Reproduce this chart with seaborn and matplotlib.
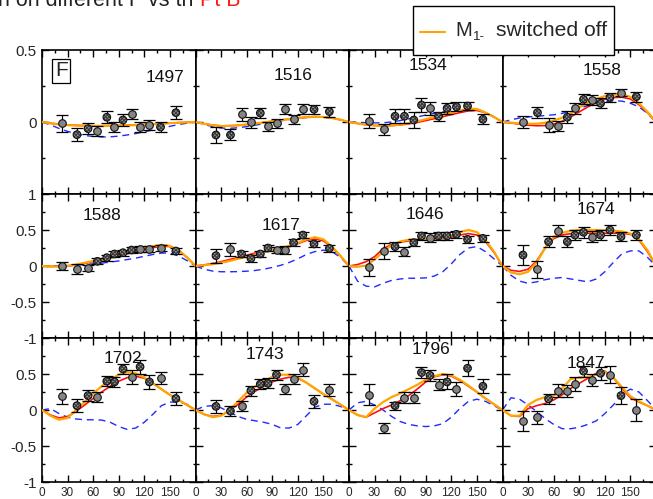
import matplotlib
matplotlib.use("Agg")
import matplotlib.pyplot as plt
import pandas as pd
import seaborn as sns
from matplotlib.lines import Line2D
from matplotlib.patches import Rectangle
from matplotlib.ticker import MultipleLocator

sns.set_theme(style="ticks")
plt.rcParams["font.family"] = ["Liberation Sans", "DejaVu Sans"]
plt.rcParams["hatch.linewidth"] = 0.8

# ---------------------------------------------------------------- data
ENERGIES = [1497, 1516, 1534, 1558, 1588, 1617, 1646, 1674, 1702, 1743, 1796, 1847]

THETA_DATA = [24, 41, 54, 65, 76, 85, 95, 105, 115, 126, 139, 157]
THETA_CURVE = [0, 10, 20, 30, 40, 50, 60, 70, 80, 90, 100, 110, 120, 130, 140, 150, 160, 170, 180]

F_MEAS = {
    1497: [-0.01, -0.088, -0.046, -0.063, 0.033, -0.037, 0.014, 0.056, -0.032, -0.023, -0.035, 0.065],
    1516: [-0.09, -0.09, 0.053, -0.002, 0.062, -0.03, -0.01, 0.09, 0.019, 0.09, 0.088, 0.072],
    1534: [0.007, -0.051, 0.04, 0.04, 0.014, 0.118, 0.095, 0.04, 0.095, 0.106, 0.111, 0.019],
    1558: [0.0, 0.065, -0.021, -0.028, 0.033, 0.095, 0.157, 0.153, 0.13, 0.171, 0.204, 0.176],
    1588: [0.0, -0.042, -0.028, 0.065, 0.116, 0.167, 0.185, 0.222, 0.231, 0.231, 0.245, 0.208],
    1617: [0.144, 0.231, 0.167, 0.106, 0.167, 0.25, 0.222, 0.222, 0.324, 0.43, 0.306, 0.245],
    1646: [-0.019, 0.213, 0.269, 0.199, 0.324, 0.417, 0.394, 0.417, 0.417, 0.44, 0.37, 0.384],
    1674: [0.153, -0.046, 0.338, 0.49, 0.338, 0.43, 0.468, 0.407, 0.43, 0.5, 0.407, 0.43],
    1702: [0.19, 0.06, 0.2, 0.18, 0.4, 0.39, 0.57, 0.46, 0.6, 0.39, 0.45, 0.16],
    1743: [0.05, -0.015, 0.05, 0.27, 0.36, 0.37, 0.49, 0.29, 0.43, 0.56, 0.12, 0.28],
    1796: [0.215, -0.25, 0.06, 0.17, 0.17, 0.52, 0.48, 0.35, 0.39, 0.29, 0.58, 0.33],
    1847: [-0.155, -0.1, 0.155, 0.27, 0.26, 0.36, 0.54, 0.42, 0.51, 0.49, 0.2, 0.0],
}

F_ERR = {
    1497: [0.061, 0.046, 0.038, 0.035, 0.04, 0.035, 0.04, 0.035, 0.035, 0.035, 0.035, 0.045],
    1516: [0.053, 0.038, 0.044, 0.039, 0.037, 0.032, 0.034, 0.037, 0.031, 0.034, 0.031, 0.035],
    1534: [0.046, 0.038, 0.049, 0.049, 0.054, 0.046, 0.046, 0.032, 0.037, 0.03, 0.027, 0.035],
    1558: [0.043, 0.038, 0.05, 0.037, 0.04, 0.037, 0.035, 0.037, 0.035, 0.029, 0.025, 0.035],
    1588: [0.05, 0.065, 0.04, 0.04, 0.04, 0.04, 0.04, 0.04, 0.04, 0.04, 0.04, 0.04],
    1617: [0.097, 0.086, 0.044, 0.046, 0.046, 0.046, 0.046, 0.055, 0.046, 0.046, 0.04, 0.046],
    1646: [0.116, 0.111, 0.058, 0.065, 0.053, 0.05, 0.063, 0.05, 0.05, 0.05, 0.05, 0.053],
    1674: [0.134, 0.116, 0.076, 0.076, 0.081, 0.074, 0.074, 0.074, 0.065, 0.069, 0.06, 0.069],
    1702: [0.104, 0.093, 0.081, 0.069, 0.069, 0.069, 0.074, 0.093, 0.1, 0.093, 0.083, 0.095],
    1743: [0.093, 0.069, 0.069, 0.069, 0.069, 0.069, 0.069, 0.069, 0.074, 0.088, 0.086, 0.08],
    1796: [0.15, 0.076, 0.058, 0.074, 0.076, 0.074, 0.081, 0.074, 0.104, 0.1, 0.109, 0.097],
    1847: [0.14, 0.088, 0.074, 0.088, 0.086, 0.093, 0.076, 0.086, 0.088, 0.116, 0.12, 0.15],
}

# 1 = second data set (hatched symbol), 0 = first data set (plain grey symbol)
SECOND_SET = {
    1497: [0, 1, 1, 0, 1, 0, 1, 0, 0, 0, 1, 1],
    1516: [1, 1, 0, 0, 1, 0, 0, 0, 0, 0, 1, 1],
    1534: [0, 0, 1, 1, 1, 1, 0, 1, 1, 1, 1, 1],
    1558: [0, 1, 0, 0, 1, 0, 1, 0, 1, 1, 0, 1],
    1588: [0, 0, 0, 1, 1, 1, 1, 1, 0, 0, 0, 1],
    1617: [1, 0, 1, 1, 1, 1, 0, 0, 1, 1, 1, 1],
    1646: [0, 0, 1, 0, 1, 1, 0, 1, 1, 1, 1, 1],
    1674: [1, 0, 1, 0, 1, 1, 1, 0, 1, 1, 1, 1],
    1702: [0, 1, 1, 0, 1, 1, 1, 0, 1, 1, 0, 1],
    1743: [1, 1, 0, 1, 1, 1, 1, 0, 0, 0, 1, 0],
    1796: [0, 0, 1, 0, 0, 1, 1, 0, 1, 0, 1, 1],
    1847: [0, 0, 1, 0, 0, 0, 1, 0, 1, 0, 1, 0],
}

# full solution (red)
FIT_FULL = {
    1497: [0, -0.008, -0.015, -0.02, -0.023, -0.025, -0.026, -0.026, -0.025, -0.024, -0.022, -0.02, -0.017, -0.014, -0.011, -0.008, -0.005, -0.002, 0],
    1516: [0, -0.012, -0.022, -0.027, -0.026, -0.023, -0.017, -0.01, -0.003, 0.005, 0.013, 0.021, 0.028, 0.034, 0.037, 0.035, 0.028, 0.016, 0],
    1534: [0, -0.01, -0.019, -0.024, -0.026, -0.025, -0.021, -0.013, -0.003, 0.01, 0.023, 0.037, 0.051, 0.065, 0.077, 0.08, 0.065, 0.035, 0],
    1558: [0, -0.007, -0.015, -0.022, -0.026, -0.025, -0.015, 0.005, 0.035, 0.07, 0.105, 0.135, 0.158, 0.17, 0.172, 0.16, 0.12, 0.065, 0],
    1588: [0, -0.005, -0.005, 0.0, 0.015, 0.035, 0.06, 0.085, 0.11, 0.14, 0.17, 0.2, 0.23, 0.255, 0.275, 0.27, 0.22, 0.12, 0],
    1617: [0, 0.015, 0.035, 0.06, 0.09, 0.12, 0.15, 0.18, 0.2, 0.22, 0.245, 0.27, 0.31, 0.355, 0.375, 0.35, 0.26, 0.14, 0],
    1646: [0, 0.02, 0.06, 0.13, 0.24, 0.3, 0.33, 0.35, 0.36, 0.365, 0.37, 0.38, 0.4, 0.43, 0.45, 0.43, 0.34, 0.19, 0],
    1674: [0, -0.06, -0.075, -0.045, 0.07, 0.25, 0.38, 0.43, 0.45, 0.455, 0.455, 0.455, 0.455, 0.455, 0.455, 0.44, 0.36, 0.2, 0],
    1702: [0, -0.07, -0.11, -0.09, -0.02, 0.07, 0.16, 0.25, 0.33, 0.4, 0.45, 0.47, 0.44, 0.37, 0.29, 0.21, 0.14, 0.07, 0],
    1743: [0, -0.06, -0.09, -0.075, -0.01, 0.08, 0.18, 0.26, 0.33, 0.39, 0.43, 0.455, 0.44, 0.38, 0.3, 0.22, 0.15, 0.075, 0],
    1796: [0, -0.07, -0.1, -0.04, 0.02, 0.07, 0.13, 0.2, 0.29, 0.39, 0.46, 0.49, 0.47, 0.41, 0.33, 0.25, 0.16, 0.08, 0],
    1847: [0, -0.08, -0.09, 0.02, 0.06, 0.09, 0.14, 0.21, 0.3, 0.37, 0.44, 0.51, 0.54, 0.45, 0.3, 0.17, 0.11, 0.06, 0],
}

# solution with the M1- multipole switched off (orange)
FIT_M1M_OFF = {
    1497: [0, -0.01, -0.018, -0.022, -0.025, -0.027, -0.028, -0.028, -0.027, -0.026, -0.024, -0.022, -0.019, -0.016, -0.012, -0.008, -0.005, -0.002, 0],
    1516: [0, -0.012, -0.022, -0.028, -0.027, -0.024, -0.018, -0.01, -0.003, 0.004, 0.012, 0.02, 0.027, 0.033, 0.036, 0.035, 0.028, 0.016, 0],
    1534: [0, -0.01, -0.019, -0.024, -0.026, -0.024, -0.018, -0.008, 0.005, 0.02, 0.035, 0.05, 0.065, 0.08, 0.092, 0.09, 0.065, 0.035, 0],
    1558: [0, -0.005, -0.01, -0.012, -0.012, -0.005, 0.01, 0.03, 0.06, 0.1, 0.135, 0.16, 0.18, 0.19, 0.192, 0.175, 0.13, 0.07, 0],
    1588: [0, -0.008, -0.008, 0.0, 0.02, 0.045, 0.07, 0.1, 0.13, 0.16, 0.19, 0.22, 0.25, 0.275, 0.295, 0.28, 0.22, 0.12, 0],
    1617: [0, 0.01, 0.025, 0.045, 0.07, 0.1, 0.13, 0.16, 0.19, 0.22, 0.25, 0.28, 0.32, 0.37, 0.4, 0.37, 0.27, 0.14, 0],
    1646: [0, -0.01, 0.005, 0.09, 0.2, 0.29, 0.34, 0.365, 0.37, 0.37, 0.375, 0.39, 0.42, 0.47, 0.5, 0.47, 0.36, 0.2, 0],
    1674: [0, -0.09, -0.115, -0.08, 0.05, 0.25, 0.4, 0.46, 0.49, 0.5, 0.5, 0.5, 0.495, 0.49, 0.48, 0.45, 0.37, 0.22, 0],
    1702: [0, -0.08, -0.135, -0.11, 0.0, 0.11, 0.23, 0.33, 0.42, 0.49, 0.525, 0.51, 0.45, 0.37, 0.29, 0.21, 0.14, 0.07, 0],
    1743: [0, -0.06, -0.1, -0.08, 0.0, 0.12, 0.24, 0.33, 0.4, 0.46, 0.49, 0.49, 0.45, 0.38, 0.3, 0.22, 0.15, 0.075, 0],
    1796: [0, -0.07, -0.1, 0.02, 0.11, 0.18, 0.23, 0.29, 0.35, 0.42, 0.47, 0.5, 0.48, 0.42, 0.34, 0.25, 0.16, 0.08, 0],
    1847: [0, -0.08, -0.08, 0.07, 0.14, 0.18, 0.2, 0.3, 0.43, 0.45, 0.46, 0.49, 0.53, 0.45, 0.32, 0.19, 0.12, 0.06, 0],
}

# earlier solution (blue dashed)
FIT_PREV = {
    1497: [0, -0.02, -0.045, -0.065, -0.082, -0.094, -0.1, -0.104, -0.103, -0.098, -0.09, -0.08, -0.068, -0.055, -0.042, -0.03, -0.018, -0.008, 0],
    1516: [0, -0.016, -0.032, -0.042, -0.044, -0.04, -0.032, -0.022, -0.012, -0.002, 0.008, 0.017, 0.025, 0.031, 0.034, 0.033, 0.027, 0.015, 0],
    1534: [0, -0.002, -0.005, -0.006, -0.005, 0.0, 0.01, 0.022, 0.035, 0.048, 0.06, 0.07, 0.079, 0.087, 0.092, 0.09, 0.067, 0.036, 0],
    1558: [0, 0.015, 0.028, 0.035, 0.04, 0.045, 0.05, 0.06, 0.075, 0.095, 0.115, 0.13, 0.142, 0.147, 0.145, 0.13, 0.105, 0.06, 0],
    1588: [0, 0.0, 0.002, 0.006, 0.012, 0.02, 0.03, 0.04, 0.055, 0.07, 0.09, 0.11, 0.135, 0.16, 0.18, 0.18, 0.14, 0.075, 0],
    1617: [0, -0.045, -0.07, -0.08, -0.08, -0.078, -0.072, -0.062, -0.045, -0.02, 0.01, 0.05, 0.1, 0.16, 0.2, 0.22, 0.2, 0.12, 0],
    1646: [0, -0.21, -0.28, -0.29, -0.24, -0.2, -0.18, -0.17, -0.17, -0.165, -0.14, -0.08, 0.03, 0.16, 0.25, 0.27, 0.2, 0.1, 0],
    1674: [0, -0.13, -0.21, -0.24, -0.22, -0.19, -0.17, -0.16, -0.18, -0.2, -0.22, -0.18, -0.08, 0.05, 0.17, 0.21, 0.21, 0.12, 0],
    1702: [0, 0.02, -0.05, -0.1, -0.125, -0.135, -0.136, -0.14, -0.17, -0.23, -0.27, -0.25, -0.17, -0.06, 0.06, 0.11, 0.11, 0.08, 0],
    1743: [0, 0.05, 0.06, 0.03, -0.03, -0.09, -0.13, -0.15, -0.17, -0.2, -0.25, -0.25, -0.2, -0.08, 0.04, 0.08, 0.08, 0.05, 0],
    1796: [0, 0.1, 0.12, 0.07, 0.0, -0.09, -0.16, -0.2, -0.22, -0.23, -0.22, -0.19, -0.1, 0.02, 0.12, 0.15, 0.12, 0.06, 0],
    1847: [0, 0.17, 0.15, 0.07, -0.02, -0.12, -0.2, -0.26, -0.26, -0.24, -0.2, -0.15, -0.05, 0.07, 0.22, 0.29, 0.25, 0.13, 0],
}

ROW_YTICK_LABELS = [
    ["", "0", "0.5"],
    ["-1", "-0.5", "0", "0.5", "1"],
    ["-1", "-0.5", "0", "0.5", ""],
]
X_TICK_LABELS = ["0", "30", "60", "90", "120", "150", ""]

# ---------------------------------------------------------------- layout (pixels)
W, H = 653, 499
COL_LEFT = [42, 195.5, 349, 502.5]
COL_W = 153.5
ROW_TOP = [50, 194, 338]
ROW_H = 144

LABEL_POS = {
    1497: (0.80, 0.81), 1516: (0.637, 0.826), 1534: (0.517, 0.889), 1558: (0.65, 0.861),
    1588: (0.389, 0.854), 1617: (0.557, 0.778), 1646: (0.497, 0.861), 1674: (0.609, 0.894),
    1702: (0.53, 0.859), 1743: (0.45, 0.882), 1796: (0.531, 0.922), 1847: (0.544, 0.824),
}

fig = plt.figure(figsize=(W / 100, H / 100), dpi=100)
fig.patch.set_facecolor("white")

for i, energy in enumerate(ENERGIES):
    r, c = divmod(i, 4)
    ax = fig.add_axes([COL_LEFT[c] / W, 1 - (ROW_TOP[r] + ROW_H) / H, COL_W / W, ROW_H / H])
    ax.set_facecolor("white")

    curves = pd.DataFrame({
        "theta": THETA_CURVE,
        "prev": FIT_PREV[energy],
        "full": FIT_FULL[energy],
        "m1off": FIT_M1M_OFF[energy],
    })
    sns.lineplot(data=curves, x="theta", y="prev", ax=ax, color="#1f2bff",
                 linewidth=1.0, linestyle=(0, (5, 3.5)), zorder=2)
    sns.lineplot(data=curves, x="theta", y="full", ax=ax, color="#ff1010",
                 linewidth=1.2, zorder=3)
    sns.lineplot(data=curves, x="theta", y="m1off", ax=ax, color="#ffa500",
                 linewidth=1.6, zorder=4)

    pts = pd.DataFrame({
        "theta": THETA_DATA,
        "F": F_MEAS[energy],
        "err": F_ERR[energy],
        "second": SECOND_SET[energy],
    })
    ax.errorbar(pts["theta"], pts["F"], yerr=pts["err"], fmt="none", ecolor="black",
                elinewidth=0.9, capsize=4, capthick=0.9, zorder=5)
    first = pts[pts["second"] == 0]
    second = pts[pts["second"] == 1]
    sns.scatterplot(data=first, x="theta", y="F", ax=ax, s=30, color="#858585",
                    edgecolor="#111111", linewidth=0.8, zorder=6)
    # hatched fill (hatch lines take the edge colour), then a black ring on top
    sns.scatterplot(data=second, x="theta", y="F", ax=ax, s=30, facecolor="#9a9a9a",
                    edgecolor="#3a3a3a", linewidth=0.0, hatch="x" * 9, zorder=6)
    sns.scatterplot(data=second, x="theta", y="F", ax=ax, s=30, facecolor="none",
                    edgecolor="#111111", linewidth=0.8, zorder=7)

    ax.set_xlim(0, 180)
    if r == 0:
        ax.set_ylim(-0.5, 0.5)
        ax.set_yticks([-0.5, 0, 0.5])
    else:
        ax.set_ylim(-1, 1)
        ax.set_yticks([-1, -0.5, 0, 0.5, 1])
    ax.yaxis.set_minor_locator(MultipleLocator(0.25))
    ax.set_xticks([0, 30, 60, 90, 120, 150, 180])
    ax.xaxis.set_minor_locator(MultipleLocator(15))
    ax.set_xlabel("")
    ax.set_ylabel("")

    ax.tick_params(which="both", direction="in", top=True, right=True,
                   color="black", width=1.0)
    ax.tick_params(which="major", length=5)
    ax.tick_params(which="minor", length=2.5)
    ax.tick_params(axis="y", labelsize=11, pad=4)
    ax.tick_params(axis="x", labelsize=8.5, pad=3.5)

    if c == 0:
        ax.set_yticklabels(ROW_YTICK_LABELS[r])
    else:
        ax.tick_params(labelleft=False)
    if r == 2:
        ax.set_xticklabels(X_TICK_LABELS)
    else:
        ax.tick_params(labelbottom=False)

    for sp in ax.spines.values():
        sp.set_color("black")
        sp.set_linewidth(1.2)

    lx, ly = LABEL_POS[energy]
    ax.text(lx, ly, str(energy), transform=ax.transAxes, ha="center", va="center",
            fontsize=12.5, color="#111111", zorder=8)

    if energy == 1497:
        ax.text(0.126, 0.856, "F", transform=ax.transAxes, ha="center", va="center",
                fontsize=15, zorder=8,
                bbox=dict(boxstyle="square,pad=0.12", facecolor="white",
                          edgecolor="black", linewidth=0.9))

# heading, partly cut by the upper edge of the canvas
fig.text(-2 / W, 1 - 6.5 / H, "n on different F vs th", fontsize=15.5, color="#222222",
         va="baseline", ha="left")
fig.text(200 / W, 1 - 6.5 / H, "Pt B", fontsize=15.5, color="#ff1a1a",
         va="baseline", ha="left")

# key for the orange curve
fig.add_artist(Rectangle((413 / W, 1 - 55 / H), 201 / W, 49 / H, transform=fig.transFigure,
                         facecolor="white", edgecolor="black", linewidth=1.0, zorder=20))
fig.add_artist(Line2D([420 / W, 445 / W], [1 - 32 / H, 1 - 32 / H], transform=fig.transFigure,
                      color="#ffa500", linewidth=1.5, zorder=21))
fig.text(455 / W, 1 - 36 / H, "M", fontsize=14.5, va="baseline", ha="left", zorder=21)
fig.text(472.5 / W, 1 - 40 / H, "1-", fontsize=9.5, va="baseline", ha="left", zorder=21)
fig.text(496 / W, 1 - 36 / H, "switched off", fontsize=15.2, va="baseline", ha="left", zorder=21)

fig.savefig("out.png", dpi=100)
